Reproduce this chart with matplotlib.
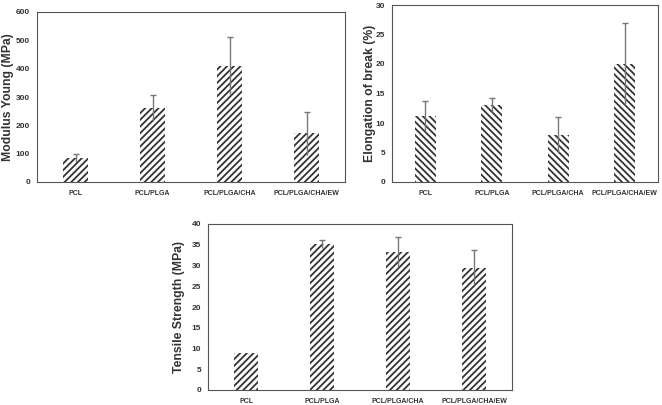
import matplotlib
matplotlib.use("Agg")
import matplotlib.pyplot as plt
import numpy as np

plt.rcParams['font.family'] = ['Liberation Sans', 'DejaVu Sans']
plt.rcParams['hatch.linewidth'] = 1.3

groups = ['PCL', 'PCL/PLGA', 'PCL/PLGA/CHA', 'PCL/PLGA/CHA/EW']

modulus = [85, 262, 410, 172]
modulus_err = [15, 46, 102, 75]

elongation = [11.2, 13.1, 8.0, 20.0]
elongation_err = [2.5, 1.2, 3.1, 7.0]

tensile = [9.0, 35.2, 33.2, 29.5]
tensile_err = [0, 0.9, 3.6, 4.3]

fig = plt.figure(figsize=(6.62, 4.05), dpi=100)
W, H = 662, 405


def add_axes(l, t, r, b):
    return fig.add_axes([l / W, 1 - b / H, (r - l) / W, (b - t) / H])


def panel(ax, vals, errs, hatch, ylabel, ymax, ystep, label_x):
    x = np.arange(len(groups))
    ax.bar(x, vals, width=0.32, color='white', edgecolor='#333333',
           linewidth=0, hatch=hatch, zorder=2)
    errs = np.array(errs)
    vals = np.array(vals)
    has = errs > 0
    ax.errorbar(x[has], vals[has], yerr=errs[has], fmt='none',
                ecolor='#777777', elinewidth=1.0, capsize=0, zorder=3)
    ax.plot(x[has], vals[has] + errs[has], linestyle='none', marker='_',
            markersize=5, color='#777777', markeredgewidth=1.0, zorder=3)
    ax.set_xlim(-0.5, len(groups) - 0.5)
    ax.set_ylim(0, ymax)
    ax.set_yticks(np.arange(0, ymax + ystep / 2, ystep))
    ax.set_xticks(x)
    ax.set_xticklabels(groups, fontsize=5, fontweight='bold', color='#333333')
    for lab in ax.get_yticklabels():
        lab.set_fontsize(6)
        lab.set_fontweight('bold')
        lab.set_color('#333333')
    ax.tick_params(axis='y', length=0, pad=5)
    ax.tick_params(axis='x', length=0, pad=6)
    ax.set_ylabel(ylabel, fontsize=8.8, fontweight='bold', color='#333333')
    ax.yaxis.set_label_coords(label_x, 0.5)
    for s in ax.spines.values():
        s.set_color('#555555')
        s.set_linewidth(0.8)


ax1 = add_axes(37, 12, 345, 182)
ax2 = add_axes(392, 5, 658, 182)
ax3 = add_axes(208, 224, 512, 390)

panel(ax1, modulus, modulus_err, '/////', 'Modulus Young (MPa)', 600, 100,
      (14 - 37) / 308)
panel(ax2, elongation, elongation_err, '\\\\\\\\\\', 'Elongation of break (%)',
      30, 5, (376 - 392) / 266)
panel(ax3, tensile, tensile_err, '/////', 'Tensile Strength (MPa)', 40, 5,
      (185 - 208) / 304)

fig.savefig('out.png', dpi=100)
